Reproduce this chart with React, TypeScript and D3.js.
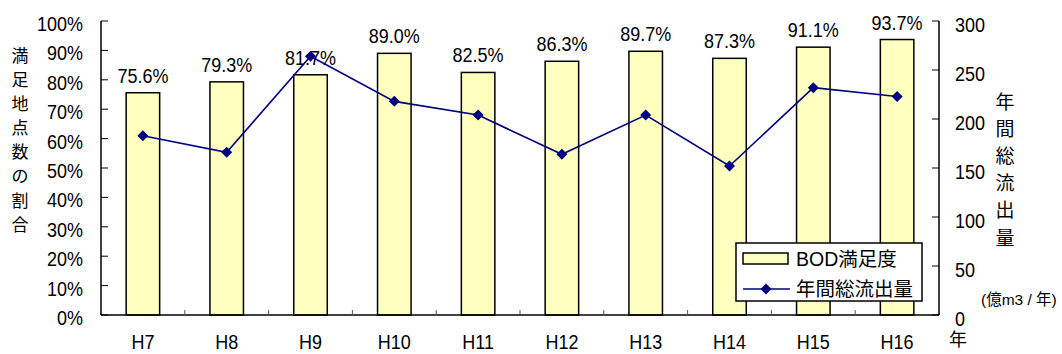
import React from "react";
import * as d3 from "d3";

// Fiscal years (Heisei era)
const years = ["H7", "H8", "H9", "H10", "H11", "H12", "H13", "H14", "H15", "H16"];
// Share of monitoring points meeting the BOD standard (%)
const bodRate = [75.6, 79.3, 81.7, 89.0, 82.5, 86.3, 89.7, 87.3, 91.1, 93.7];
// Total annual runoff (100 million m3 / year)
const runoff = [183, 166, 264, 218, 204, 164, 204, 152, 232, 223];

const leftTicks = [0, 10, 20, 30, 40, 50, 60, 70, 80, 90, 100];
const rightTicks = [0, 50, 100, 150, 200, 250, 300];

const leftTitle = "満足地点数の割合";
const rightTitle = "年間総流出量";
const unitLabel = "(億m3 / 年)";
const xTitle = "年";
const legendBar = "BOD満足度";
const legendLine = "年間総流出量";

const W = 1062;
const H = 354;
const FONT = "'Liberation Sans', Arial, 'Noto Sans CJK JP', sans-serif";
const BAR_FILL = "#FFFFC0";
const LINE = "#000080";

// Text with a slight vertical stretch, like the tall glyphs of the original chart font
function T(props: {
  x: number;
  y: number;
  size: number;
  anchor?: "start" | "middle" | "end";
  middle?: boolean;
  children: React.ReactNode;
}) {
  const { x, y, size, anchor = "start", middle = false, children } = props;
  return (
    <text
      transform={`translate(${x},${y}) scale(1,1.1)`}
      textAnchor={anchor}
      dy={middle ? "0.35em" : undefined}
      fontSize={size}
      fill="#000"
    >
      {children}
    </text>
  );
}

export default function App() {
  const left = 101;
  const right = 939;
  const top = 21;
  const bottom = 315;

  const x = d3.scaleBand<string>().domain(years).range([left, right]).paddingInner(0.6).paddingOuter(0.3);
  const xc = d3.scaleBand<string>().domain(years).range([left, right]);
  const yL = d3.scaleLinear().domain([0, 100]).range([bottom, top]);
  const yR = d3.scaleLinear().domain([0, 300]).range([bottom, top]);

  const cx = (c: string) => (xc(c) as number) + xc.bandwidth() / 2;

  const line = d3
    .line<number>()
    .x((_, i) => cx(years[i]))
    .y((d) => yR(d));

  const diamond = (px: number, py: number, r: number) =>
    `M${px},${py - r}L${px + r},${py}L${px},${py + r}L${px - r},${py}Z`;

  const legX = 736;
  const legY = 243;

  return (
    <svg
      width={W}
      height={H}
      style={{ position: "absolute", left: 0, top: 0, background: "#fff" }}
      fontFamily={FONT}
    >
      <rect x={0} y={0} width={W} height={H} fill="#fff" />

      {/* bars */}
      {bodRate.map((v, i) => (
        <rect
          key={years[i]}
          x={x(years[i])}
          y={yL(v)}
          width={x.bandwidth()}
          height={bottom - yL(v)}
          fill={BAR_FILL}
          stroke="#000"
          strokeWidth={1.5}
        />
      ))}

      {/* bar value labels */}
      {bodRate.map((v, i) => (
        <T key={"l" + years[i]} x={cx(years[i])} y={yL(v) - 10} size={18} anchor="middle">
          {v.toFixed(1) + "%"}
        </T>
      ))}

      {/* runoff line */}
      <path d={line(runoff) || ""} fill="none" stroke={LINE} strokeWidth={1.6} />
      {runoff.map((v, i) => (
        <path key={"m" + years[i]} d={diamond(cx(years[i]), yR(v), 5.5)} fill={LINE} />
      ))}

      {/* axes */}
      <line x1={left} x2={left} y1={top} y2={bottom} stroke="#000" strokeWidth={1.5} />
      <line x1={right} x2={right} y1={top} y2={bottom} stroke="#000" strokeWidth={1.5} />
      <line x1={left} x2={right} y1={bottom} y2={bottom} stroke="#000" strokeWidth={1.5} />

      {leftTicks.map((t) => (
        <g key={"lt" + t}>
          <line x1={left} x2={left + 7} y1={yL(t)} y2={yL(t)} stroke="#000" strokeWidth={1} />
          <T x={83} y={yL(t) + 3} size={18} anchor="end" middle>
            {t + "%"}
          </T>
        </g>
      ))}
      {rightTicks.map((t) => (
        <g key={"rt" + t}>
          <line x1={right - 7} x2={right} y1={yR(t)} y2={yR(t)} stroke="#000" strokeWidth={1} />
          <T x={955} y={yR(t) + 4} size={18} middle>
            {t}
          </T>
        </g>
      ))}
      {years.slice(1).map((c) => (
        <line
          key={"xt" + c}
          x1={xc(c)}
          x2={xc(c)}
          y1={bottom}
          y2={bottom - 5}
          stroke="#555"
          strokeWidth={1}
        />
      ))}
      {years.map((c) => (
        <T key={"xl" + c} x={cx(c)} y={349} size={18} anchor="middle">
          {c}
        </T>
      ))}

      {/* axis titles */}
      {Array.from(leftTitle).map((ch, i) => (
        <text key={"lt-" + i} x={20} y={56 + i * 24.1} dy="0.35em" textAnchor="middle" fontSize={17}>
          {ch}
        </text>
      ))}
      {Array.from(rightTitle).map((ch, i) => (
        <text key={"rt-" + i} x={1005} y={102 + i * 27.2} dy="0.35em" textAnchor="middle" fontSize={19}>
          {ch}
        </text>
      ))}
      <text x={981} y={300} dy="0.35em" fontSize={15.5}>
        {unitLabel}
      </text>
      <text x={958} y={340} dy="0.35em" textAnchor="middle" fontSize={18}>
        {xTitle}
      </text>

      {/* legend */}
      <g>
        <rect x={legX} y={legY} width={186} height={58} fill="#fff" stroke="#000" strokeWidth={1.5} />
        <rect x={legX + 7} y={legY + 10} width={45} height={11} fill={BAR_FILL} stroke="#000" strokeWidth={1.5} />
        <text x={legX + 60} y={legY + 16} dy="0.35em" fontSize={19.5}>
          {legendBar}
        </text>
        <line x1={legX + 7} x2={legX + 54} y1={legY + 46} y2={legY + 46} stroke={LINE} strokeWidth={1.6} />
        <path d={diamond(legX + 30, legY + 46, 5.5)} fill={LINE} />
        <text x={legX + 60} y={legY + 46} dy="0.35em" fontSize={19.5}>
          {legendLine}
        </text>
      </g>
    </svg>
  );
}
